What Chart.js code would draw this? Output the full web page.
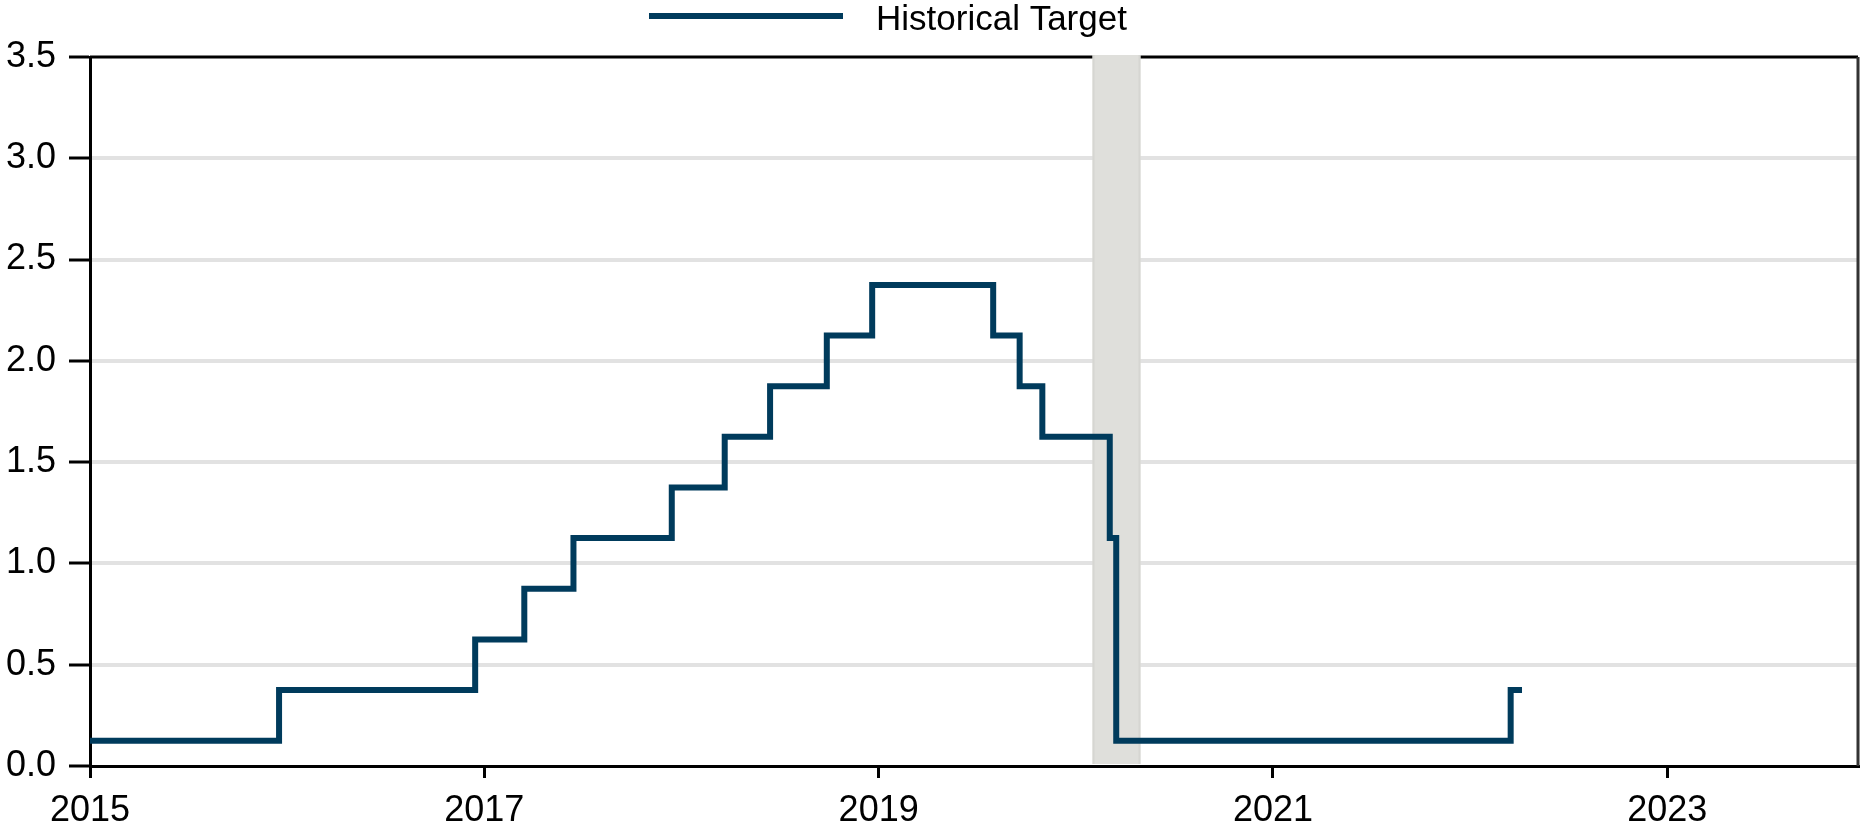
<!DOCTYPE html>
<html>
<head>
<meta charset="utf-8">
<script src="https://cdn.jsdelivr.net/npm/chart.js@4.4.1/dist/chart.umd.min.js"></script>
<style>
  html, body { margin: 0; padding: 0; background: #ffffff; }
  #wrap { width: 1860px; height: 828px; }
</style>
</head>
<body>
<div id="wrap"><canvas id="c" width="1860" height="828"></canvas></div>
<script>
// ---- Data ----
const seriesLabel = 'Historical Target';
const rateDates = ['2015-01-01','2015-12-17','2016-12-15','2017-03-16','2017-06-15','2017-12-14',
  '2018-03-22','2018-06-14','2018-09-27','2018-12-20','2019-08-01','2019-09-19','2019-10-31',
  '2020-03-04','2020-03-16','2022-03-17','2022-04-07'];
const rateValues = [0.125,0.375,0.625,0.875,1.125,1.375,1.625,1.875,2.125,2.375,2.125,1.875,1.625,
  1.125,0.125,0.375,0.375];
const recessionStart = '2020-02-01';
const recessionEnd = '2020-04-30';
const xAxisStart = '2015-01-01';
const xAxisEnd = '2023-12-20';
const xTickValues = [2015, 2017, 2019, 2021, 2023];
const xTickLabels = ['2015', '2017', '2019', '2021', '2023'];
const yMin = 0, yMax = 3.5, yStep = 0.5;

// ---- Helpers ----
function toYear(s) {
  const d = new Date(s + 'T00:00:00Z');
  const y = d.getUTCFullYear();
  const a = Date.UTC(y, 0, 1), b = Date.UTC(y + 1, 0, 1);
  return y + (d.getTime() - a) / (b - a);
}
const points = rateDates.map((d, i) => ({ x: toYear(d), y: rateValues[i] }));

const FONT = '"Liberation Sans", Arial, Helvetica, sans-serif';
const LINE_COLOR = '#003B5C';

const framePlugin = {
  id: 'frameAndBand',
  beforeDatasetsDraw(chart) {
    const { ctx, chartArea: a, scales } = chart;
    ctx.save();
    ctx.lineWidth = 3;
    ctx.strokeStyle = '#000';
    ctx.beginPath();
    ctx.moveTo(a.left, a.top);
    ctx.lineTo(a.right, a.top);
    ctx.stroke();
    ctx.strokeStyle = '#333';
    ctx.beginPath();
    ctx.moveTo(a.right, a.top);
    ctx.lineTo(a.right, a.bottom);
    ctx.stroke();
    const x0 = scales.x.getPixelForValue(toYear(recessionStart));
    const x1 = scales.x.getPixelForValue(toYear(recessionEnd));
    const top = a.top - 2, bot = a.bottom - 2;
    ctx.fillStyle = '#dfdfdb';
    ctx.fillRect(x0, top, x1 - x0, bot - top);
    ctx.fillStyle = '#d6d6d2';
    ctx.fillRect(x0, top, 2, bot - top);
    ctx.fillRect(x1 - 2, top, 2, bot - top);
    ctx.restore();
  },
  afterDraw(chart) {
    const { ctx } = chart;
    const ds = chart.data.datasets[0];
    ctx.save();
    ctx.strokeStyle = ds.borderColor;
    ctx.lineWidth = 6;
    ctx.beginPath();
    ctx.moveTo(649, 16);
    ctx.lineTo(843, 16);
    ctx.stroke();
    ctx.fillStyle = '#000';
    ctx.font = '35px ' + FONT;
    ctx.textBaseline = 'alphabetic';
    ctx.textAlign = 'left';
    ctx.fillText(ds.label, 876, 30);
    ctx.restore();
  }
};

new Chart(document.getElementById('c'), {
  type: 'line',
  data: {
    datasets: [{
      label: seriesLabel,
      data: points,
      borderColor: LINE_COLOR,
      backgroundColor: LINE_COLOR,
      borderWidth: 6,
      stepped: 'before',
      pointRadius: 0,
      pointHoverRadius: 0,
      fill: false,
      borderJoinStyle: 'miter',
      borderCapStyle: 'butt'
    }]
  },
  options: {
    responsive: false,
    devicePixelRatio: 1,
    animation: false,
    layout: { padding: { top: 57, right: 2, left: 0, bottom: 0 } },
    plugins: {
      legend: { display: false },
      tooltip: { enabled: false }
    },
    scales: {
      x: {
        type: 'linear',
        min: toYear(xAxisStart),
        max: toYear(xAxisEnd),
        afterBuildTicks: (s) => { s.ticks = xTickValues.map(v => ({ value: v })); },
        afterFit: (s) => { s.height = 62; },
        grid: {
          drawOnChartArea: false,
          drawTicks: true,
          tickLength: 12,
          tickWidth: 3,
          tickColor: '#000',
          lineWidth: 3,
          color: '#000'
        },
        border: { display: true, color: '#000', width: 3 },
        ticks: {
          autoSkip: false,
          maxRotation: 0,
          padding: 11,
          color: '#000',
          font: { family: FONT, size: 36 },
          callback: (v, i) => xTickLabels[i]
        }
      },
      y: {
        min: yMin,
        max: yMax,
        afterFit: (s) => { s.width = 90; },
        grid: {
          drawTicks: true,
          tickLength: 21,
          tickWidth: 3,
          tickColor: '#000',
          lineWidth: 4,
          color: (c) => (c.tick && (c.tick.value === yMax || c.tick.value === yMin)) ? 'rgba(0,0,0,0)' : '#e2e2e2'
        },
        border: { display: true, color: '#000', width: 3 },
        ticks: {
          stepSize: yStep,
          padding: 13,
          color: '#000',
          font: { family: FONT, size: 36 },
          callback: (v) => Number(v).toFixed(1)
        }
      }
    }
  },
  plugins: [framePlugin]
});
</script>
</body>
</html>
